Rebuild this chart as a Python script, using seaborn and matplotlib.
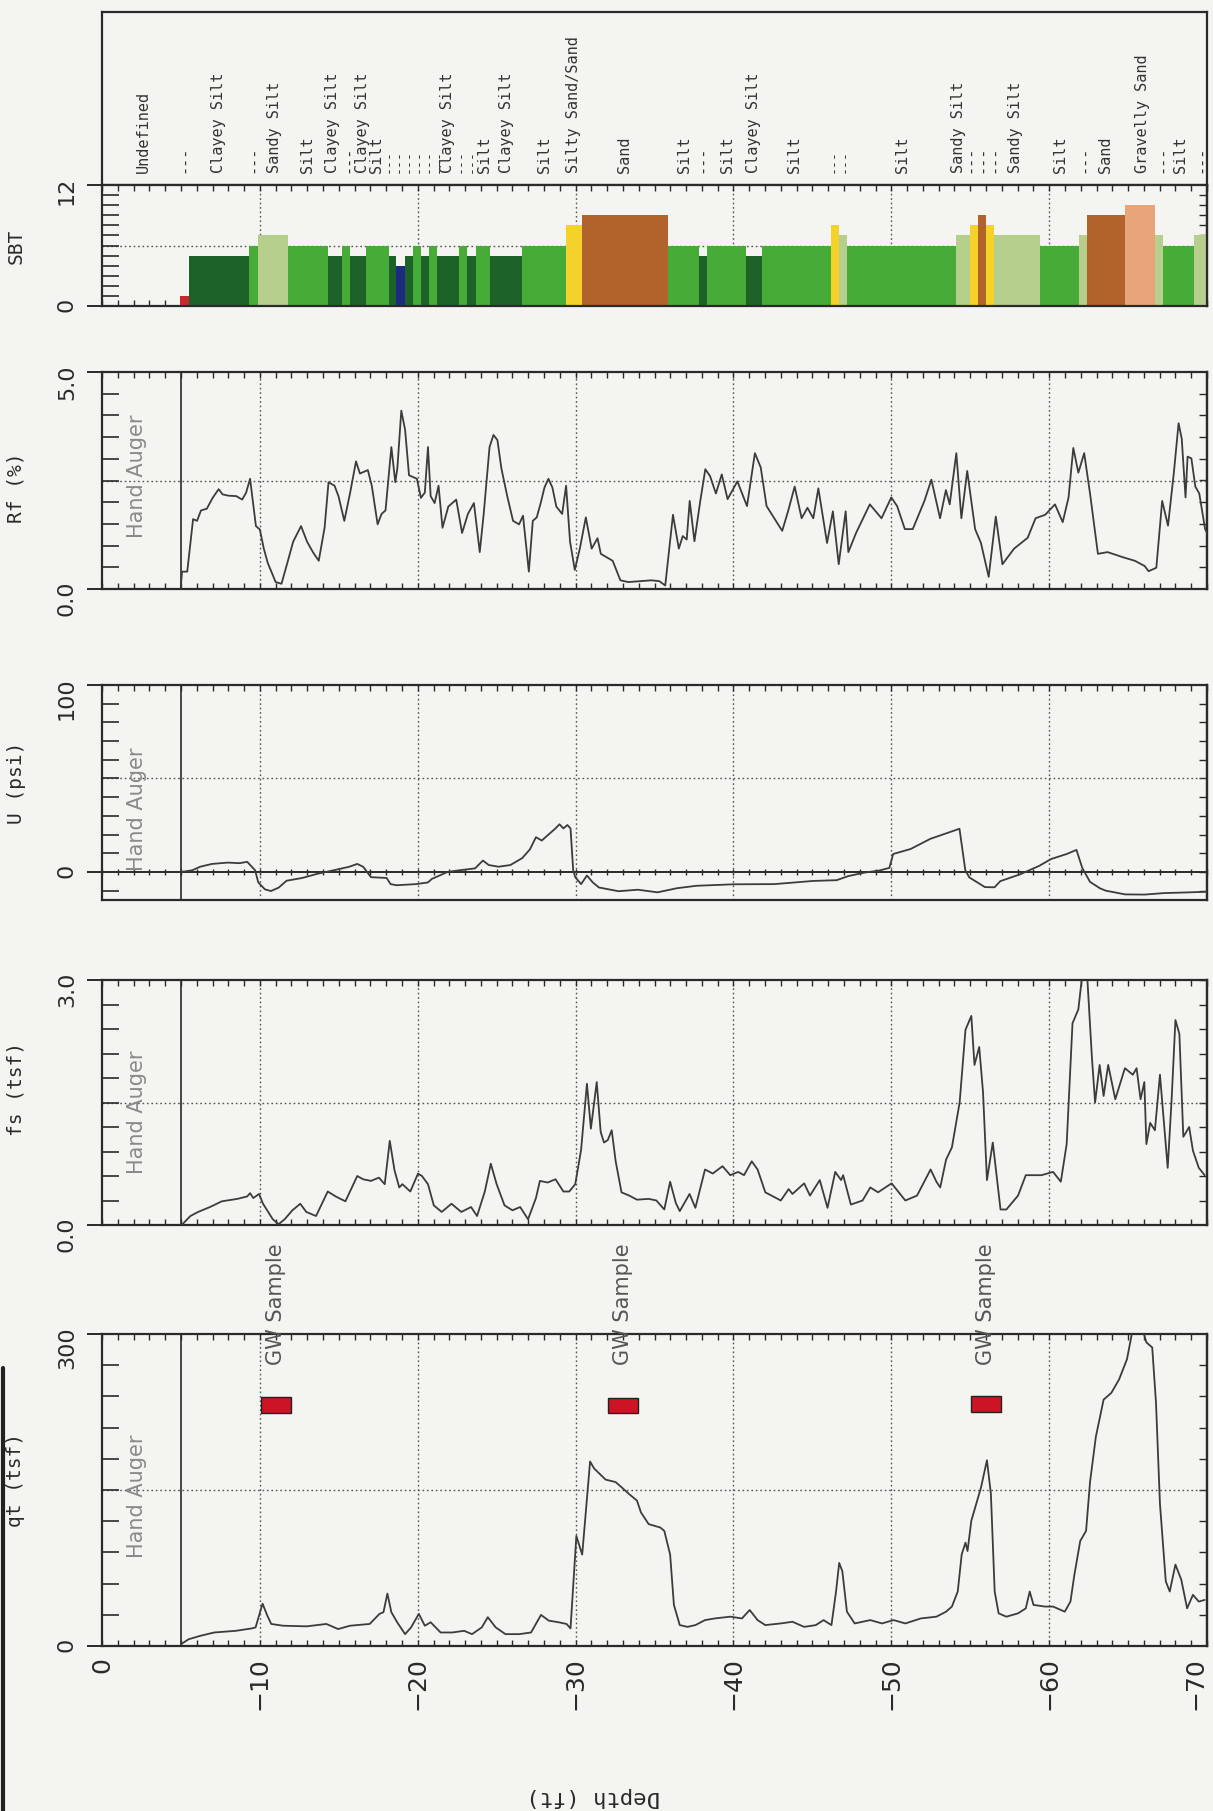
import numpy as np
import matplotlib
matplotlib.use("Agg")
import matplotlib.pyplot as plt
from matplotlib.lines import Line2D
from matplotlib.ticker import MultipleLocator, FixedLocator
import seaborn as sns

sns.set_style("white")
plt.rcParams['font.family'] = ['DejaVu Sans']
BG = '#f4f4f1'
INK = '#2a2a2a'

# ---------------- data ----------------
rf_depth = [-4.98, -5.07, -5.40, -5.77, -6.02, -6.27, -6.64, -7.01, -7.39, -7.64, -8.01, -8.51, -8.88, -9.13,
            -9.38, -9.75, -10.0, -10.25, -10.5, -11.0, -11.37, -11.74, -12.11, -12.61, -12.99, -13.36, -13.73,
            -14.1, -14.35, -14.73, -14.98, -15.35, -15.72, -16.09, -16.34, -16.84, -17.09, -17.46, -17.71,
            -17.96, -18.33, -18.58, -18.71, -18.96, -19.2, -19.45, -19.95, -20.2, -20.45, -20.65, -20.82,
            -21.07, -21.32, -21.57, -21.94, -22.44, -22.81, -23.18, -23.56, -23.93, -24.18, -24.55, -24.8,
            -25.05, -25.3, -25.67, -26.04, -26.42, -26.67, -27.04, -27.29, -27.54, -27.79, -28.03, -28.28,
            -28.53, -28.78, -29.15, -29.4, -29.65, -29.95, -30.27, -30.65, -31.02, -31.39,
            -31.6, -32.35, -32.84, -33.33, -34.07, -34.81, -35.31, -35.68, -36.17, -36.54, -36.79, -37.04,
            -37.23, -37.53, -37.9, -38.22, -38.52, -38.89, -39.26, -39.63, -40.25, -40.86, -41.36, -41.73,
            -42.1, -42.59, -43.09, -43.46, -43.88, -44.32, -44.69, -45.06, -45.38, -45.93, -46.3, -46.67,
            -47.11, -47.28, -47.78, -48.64, -49.38, -50.0, -50.37, -50.86, -51.36, -52.1, -52.54, -53.09,
            -53.46, -53.7, -54.12, -54.44, -54.81, -55.31, -55.68, -56.17, -56.62, -57.04, -57.78, -58.64,
            -59.14, -59.75, -60.37, -60.86, -61.23, -61.53, -61.85, -62.22, -62.59, -63.09, -63.7, -64.69,
            -65.43, -66.05, -66.3, -66.79, -67.16, -67.53, -67.9, -68.2, -68.4, -68.64, -68.77, -69.01,
            -69.26, -69.51, -69.88, -70.1]
rf_value = [0.0, 0.40, 0.40, 1.61, 1.57, 1.81, 1.85, 2.10, 2.30, 2.18, 2.15, 2.14, 2.06, 2.22,
            2.54, 1.45, 1.37, 0.93, 0.60, 0.16, 0.12, 0.60, 1.09, 1.45, 1.09, 0.85, 0.65,
            1.41, 2.46, 2.38, 2.14, 1.57, 2.22, 2.94, 2.66, 2.74, 2.38, 1.49, 1.73,
            1.81, 3.27, 2.46, 2.78, 4.11, 3.67, 2.62, 2.54, 2.10, 2.22, 3.27, 2.14,
            1.98, 2.38, 1.41, 1.90, 2.06, 1.29, 1.73, 1.98, 0.85, 1.73, 3.27, 3.55,
            3.43, 2.78, 2.14, 1.57, 1.49, 1.69, 0.40, 1.57, 1.65, 1.98, 2.34, 2.54,
            2.34, 1.90, 1.73, 2.38, 1.09, 0.44, 0.93, 1.65, 0.93, 1.17,
            0.81, 0.65, 0.20, 0.16, 0.18, 0.20, 0.18, 0.08, 1.71, 0.93, 1.22, 1.14,
            2.03, 1.10, 2.03, 2.76, 2.60, 2.20, 2.64, 2.07, 2.48, 1.91, 3.13, 2.80,
            1.91, 1.63, 1.34, 1.79, 2.36, 1.63, 1.87, 1.63, 2.32, 1.06, 1.79, 0.57,
            1.79, 0.85, 1.30, 1.95, 1.63, 2.11, 1.91, 1.38, 1.38, 2.03, 2.52, 1.63,
            2.28, 1.95, 3.13, 1.63, 2.72, 1.38, 1.06, 0.28, 1.67, 0.57, 0.93, 1.18,
            1.63, 1.71, 1.95, 1.54, 2.11, 3.25, 2.68, 3.13, 2.20, 0.81, 0.85, 0.73,
            0.65, 0.53, 0.41, 0.49, 2.03, 1.46, 2.68, 3.82, 3.46, 2.11, 3.05, 3.01,
            2.36, 2.20, 1.38, 1.22]

u_depth = [-5.02, -5.72, -6.22, -6.97, -7.96, -8.71, -9.2, -9.7, -9.9, -10.32, -10.7, -11.19, -11.69,
           -12.69, -13.68, -14.68, -15.67, -16.17, -16.54, -16.79, -17.04, -18.03, -18.28, -18.66, -19.9,
           -20.65, -20.9, -21.89, -22.64, -23.63, -24.13, -24.5, -25.12, -25.87, -26.62, -27.11, -27.49,
           -27.86, -28.23, -28.73, -28.98, -29.23, -29.48, -29.68, -29.85, -29.98, -30.35, -30.72, -31.09,
           -31.48, -32.72, -33.95, -35.19, -36.42, -37.65, -40.0, -42.59, -45.06, -46.54, -47.28, -48.27,
           -49.26, -49.88, -50.12, -51.23, -52.47, -53.7, -54.32, -54.69, -54.94, -55.93, -56.54, -56.91,
           -58.15, -59.38, -60.12, -61.11, -61.73, -62.1, -62.59, -63.21, -63.58, -64.81, -66.05, -67.28,
           -68.52, -70.0]
u_value = [0.0, 0.9, 2.8, 4.3, 5.0, 4.7, 5.4, 0.9, -5.6, -9.3, -10.2, -8.4, -4.7,
           -3.2, -0.9, 0.9, 2.8, 4.3, 2.8, 0.0, -2.8, -3.2, -6.5, -7.1, -6.5,
           -5.6, -3.7, 0.0, 0.9, 1.9, 6.1, 3.7, 2.8, 3.7, 7.4, 12.1, 18.6,
           16.8, 19.6, 23.3, 25.5, 23.3, 25.1, 23.3, 0.9, -2.8, -6.5, -1.9, -5.6,
           -8.3, -10.3, -9.5, -10.9, -8.7, -7.4, -6.6, -6.5, -4.8, -4.4, -2.2, -0.4,
           0.8, 2.2, 9.6, 12.3, 17.7, 21.3, 23.1, 0.9, -2.9, -8.1, -8.2, -4.9,
           -1.3, 3.3, 6.9, 9.6, 11.8, 2.1, -5.3, -8.7, -10.0, -12.0, -12.1, -11.3,
           -11.0, -10.6]

fs_depth = [-5.05, -5.6, -6.09, -6.84, -7.59, -8.58, -9.2, -9.38, -9.58, -9.95, -10.2, -10.82, -11.19,
            -11.57, -12.06, -12.56, -12.94, -13.56, -14.3, -14.8, -15.42, -16.17, -16.54, -17.04, -17.54,
            -17.91, -18.23, -18.53, -18.83, -19.03, -19.53, -20.02, -20.27, -20.65, -21.02, -21.52, -22.14,
            -22.76, -23.38, -23.76, -24.25, -24.63, -25.0, -25.5, -26.0, -26.49, -26.99, -27.49, -27.74,
            -28.23, -28.73, -29.23, -29.6, -29.98, -30.35, -30.72, -30.97, -31.34, -31.59,
            -31.8, -32.04, -32.29, -32.54, -32.91, -33.4, -33.89, -34.63, -35.12, -35.62, -35.99, -36.35,
            -36.6, -37.22, -37.59, -38.2, -38.69, -39.31, -39.8, -40.3, -40.67, -41.16, -41.53, -42.02,
            -43.0, -43.5, -43.74, -44.48, -44.85, -45.47, -45.96, -46.45, -46.82, -46.95, -47.44, -48.18,
            -48.67, -49.16, -50.02, -50.89, -51.63, -52.49, -52.86, -53.1, -53.47, -53.84, -54.33, -54.7,
            -55.07, -55.27, -55.57, -55.81, -56.06, -56.43, -56.92, -57.29, -58.03, -58.52, -59.51, -60.25,
            -60.74, -61.11, -61.48, -61.85, -62.09, -62.41, -62.71, -62.91, -63.2, -63.45, -63.74, -64.19,
            -64.8, -65.3, -65.54, -65.79, -66.03, -66.16, -66.4, -66.7, -67.02, -67.51, -67.76, -68.0,
            -68.25, -68.5, -68.87, -69.11, -69.48, -69.85]
fs_value = [0.0, 0.11, 0.16, 0.22, 0.29, 0.32, 0.35, 0.39, 0.33, 0.38, 0.26, 0.07, 0.01,
            0.07, 0.18, 0.26, 0.16, 0.11, 0.41, 0.35, 0.29, 0.60, 0.56, 0.54, 0.58,
            0.50, 1.03, 0.67, 0.46, 0.50, 0.41, 0.63, 0.60, 0.50, 0.24, 0.16, 0.26,
            0.16, 0.22, 0.11, 0.41, 0.75, 0.50, 0.24, 0.18, 0.22, 0.07, 0.33, 0.54,
            0.52, 0.56, 0.41, 0.41, 0.50, 0.92, 1.73, 1.18, 1.75, 1.14,
            1.01, 1.04, 1.16, 0.78, 0.40, 0.36, 0.31, 0.32, 0.30, 0.19, 0.53, 0.27,
            0.17, 0.38, 0.21, 0.68, 0.63, 0.72, 0.61, 0.65, 0.61, 0.78, 0.68, 0.40,
            0.30, 0.44, 0.38, 0.51, 0.36, 0.55, 0.21, 0.65, 0.55, 0.61, 0.25, 0.30,
            0.46, 0.40, 0.51, 0.30, 0.36, 0.68, 0.53, 0.46, 0.80, 0.95, 1.50, 2.39,
            2.56, 1.96, 2.18, 1.63, 0.55, 1.01, 0.19, 0.19, 0.36, 0.61, 0.61, 0.65,
            0.53, 0.99, 2.47, 2.64, 3.05, 3.05, 2.05, 1.50, 1.96, 1.58, 1.96, 1.54,
            1.92, 1.84, 1.92, 1.54, 1.75, 0.99, 1.25, 1.16, 1.84, 0.70, 1.54, 2.51,
            2.34, 1.08, 1.20, 0.91, 0.70, 0.61]

qt_depth = [-4.99, -5.49, -6.23, -7.11, -8.48, -9.48, -9.73, -10.17, -10.47, -10.72, -11.47, -12.97,
            -14.21, -14.96, -15.71, -16.96, -17.58, -17.83, -18.08, -18.33, -18.7, -19.2, -19.58, -20.07,
            -20.45, -20.82, -21.45, -22.19, -22.94, -23.44, -24.06, -24.44, -24.94, -25.56, -26.43, -27.18,
            -27.81, -28.3, -28.93, -29.43, -29.68, -30.05, -30.42, -30.92, -31.17,
            -31.9, -32.54, -32.9, -33.4, -33.89, -34.14, -34.63, -35.37, -35.62, -35.99, -36.23, -36.6,
            -37.09, -37.59, -38.2, -38.82, -39.8, -40.54, -41.03, -41.53, -42.02, -43.0, -43.74, -44.48,
            -45.22, -45.71, -46.21, -46.5, -46.7, -46.9, -47.19, -47.68, -48.67, -49.41, -50.15, -50.89,
            -51.87, -52.86, -53.47, -53.84, -54.21, -54.46, -54.7, -54.83, -55.07, -55.69, -56.06, -56.31,
            -56.55, -56.8, -57.29, -58.03, -58.52, -58.77, -59.01, -59.75, -60.25, -60.99, -61.35, -61.6,
            -61.97, -62.34, -62.59, -62.96, -63.45, -63.94, -64.43, -64.93, -65.3, -65.91, -66.16, -66.53,
            -66.77, -67.02, -67.39, -67.64, -68.0, -68.37, -68.74, -69.11, -69.48, -69.85]
qt_value = [1.6, 6.5, 9.8, 13.0, 14.6, 16.9, 17.9, 40.7, 29.3, 21.2, 19.5, 18.9,
            21.2, 16.3, 19.5, 21.2, 30.9, 32.5, 50.4, 32.5, 22.8, 11.4, 17.9, 30.9,
            19.5, 22.8, 13.0, 13.0, 14.6, 11.4, 17.9, 27.7, 17.9, 11.4, 11.4, 13.0,
            29.9, 24.4, 22.8, 21.2, 16.9, 105.8, 87.9, 177.4, 170.8,
            160.0, 157.6, 152.8, 146.0, 139.8, 128.5, 117.2, 113.9, 110.7, 88.0, 39.5, 20.1,
            18.4, 20.1, 24.9, 26.5, 28.2, 26.5, 34.6, 24.9, 20.1, 21.7, 23.3, 18.4,
            20.1, 24.9, 20.1, 52.4, 79.9, 71.8, 33.0, 21.7, 24.9, 21.7, 24.9, 21.7,
            26.5, 28.2, 33.0, 37.9, 52.4, 88.0, 99.4, 91.3, 120.4, 152.8, 178.6, 146.3,
            52.4, 31.4, 28.2, 31.4, 36.2, 52.4, 39.5, 37.9, 37.9, 33.0, 42.7, 68.6,
            101.0, 110.7, 157.6, 201.3, 236.9, 243.4, 256.3, 275.7, 305.0, 305.0, 291.9, 287.1,
            233.7, 136.6, 62.1, 52.4, 78.3, 63.8, 36.2, 49.2, 42.7, 44.3]

# SBT layers (boundaries in ft, zone number per layer)
sbt_bounds = [-4.95, -5.5, -9.33, -9.9, -11.8, -14.3, -15.2, -15.7, -16.7, -18.2, -18.65, -19.2, -19.7,
              -20.2, -20.7, -21.2, -22.6, -23.1, -23.7, -24.6, -26.6, -29.4, -30.4, -35.85, -37.8, -38.3,
              -40.8, -41.8, -46.2, -46.7, -47.2, -54.1, -55.0, -55.5, -56.0, -56.5, -59.4, -61.9, -62.4,
              -64.8, -66.7, -67.2, -69.2, -70.0]
sbt_zone = [1, 5, 6, 7, 6, 5, 6, 5, 6, 5, 4, 5, 6, 5, 6, 5, 6, 5, 6, 5, 6, 8, 9, 6, 5, 6, 5, 6, 8, 7,
            6, 7, 8, 9, 8, 7, 6, 7, 9, 10, 7, 6, 7]
zone_colors = {1: '#c62a2f', 4: '#1c2a80', 5: '#1d6329', 6: '#47ab38', 7: '#b7cf8d',
               8: '#f4d22a', 9: '#b2632c', 10: '#e9a57a'}

# layer names; closely spaced names are grouped (one name per line, pitch in ft)
sbt_label_depth = [-2.6, -5.2, -7.4, -9.55, -10.9, -13.0, -15.55, -17.4, -19.72,
                   -21.9, -23.05, -24.2, -25.6, -28.0, -29.9, -33.1, -36.9, -38.0, -39.6, -41.3,
                   -43.9, -46.65, -50.7, -55.375, -57.9, -60.7, -62.2, -63.6, -65.9, -67.1,
                   -68.3, -69.6]
sbt_label_lines = [["Undefined"], ["---"], ["Clayey Silt"], ["---"], ["Sandy Silt"], ["Silt"],
                   ["Clayey Silt", "---", "Clayey Silt"], ["Silt"], ["---"] * 6,
                   ["Clayey Silt"], ["---"] * 2, ["Silt"], ["Clayey Silt"], ["Silt"],
                   ["Silty Sand/Sand"], ["Sand"], ["Silt"], ["---"], ["Silt"], ["Clayey Silt"],
                   ["Silt"], ["---"] * 2, ["Silt"], ["Sandy Silt", "---", "---", "---"],
                   ["Sandy Silt"], ["Silt"], ["---"], ["Sand"], ["Gravelly Sand"], ["---"],
                   ["Silt"], ["---"]]
sbt_label_pitch = [0, 0, 0, 0, 0, 0, 0.75, 0, 0.45, 0, 0.5, 0, 0, 0, 0, 0, 0, 0, 0, 0,
                   0, 0.5, 0, 0.55, 0, 0, 0, 0, 0, 0, 0, 0]

gw_depth = [-11.05, -33.0, -56.0]
gw_low = [224, 224, 225]
gw_high = [239, 238, 240]

depth_ticks = [0, -10, -20, -30, -40, -50, -60, -70]

# ---------------- layout ----------------
W, H = 1213, 1811
fig = plt.figure(figsize=(W / 100, H / 100), dpi=100, facecolor=BG)
L, R = 102 / W, 1207 / W
PX_PER_FT = (1207 - 102) / 70.0


def ax_at(top_px, bot_px):
    return fig.add_axes([L, 1 - bot_px / H, R - L, (bot_px - top_px) / H])


def base_style(ax, ylim, ymid, major, major_labels, minor, bottom_ticks=True):
    ax.set_facecolor(BG)
    ax.set_xlim(0, -70)
    ax.set_ylim(*ylim)
    for s in ax.spines.values():
        s.set_linewidth(1.6)
        s.set_color(INK)
    for d in depth_ticks[1:-1]:
        ax.axvline(d, color='#555', lw=1.0, ls=(0, (1.2, 2.0)), zorder=0.5)
    if ymid is not None:
        ax.axhline(ymid, color='#555', lw=1.0, ls=(0, (1.2, 2.0)), zorder=0.5)
    ax.xaxis.set_major_locator(FixedLocator(depth_ticks))
    ax.xaxis.set_minor_locator(MultipleLocator(1))
    ax.tick_params(axis='x', which='both', direction='in', top=True, bottom=bottom_ticks,
                   length=4, width=1.0, colors=INK, labelbottom=False)
    ax.set_yticks(major)
    ax.set_yticklabels(major_labels)
    ax.yaxis.set_minor_locator(FixedLocator(minor))
    ax.tick_params(axis='y', which='major', direction='out', length=11, width=1.4, left=True,
                   right=False, labelrotation=90, pad=7, labelsize=16, colors=INK)
    ax.tick_params(axis='y', which='minor', direction='in', length=12, width=1.2, left=True,
                   right=False, colors=INK)
    sec = ax.secondary_yaxis('right')
    sec.set_yticks([])
    sec.yaxis.set_minor_locator(FixedLocator(minor))
    sec.tick_params(axis='y', which='minor', direction='in', length=6, width=1.0, colors=INK)
    sec.spines['right'].set_linewidth(1.6)
    sec.spines['right'].set_color(INK)


def hand_auger(ax, ypos):
    ax.axvline(-5, color=INK, lw=1.2, zorder=1)
    ax.text(-2.2, ypos, "Hand Auger", transform=ax.get_xaxis_transform(), rotation=90,
            ha='center', va='center', fontsize=15, color='#8a8a8a')


def trace(ax, x, y):
    sns.lineplot(x=x, y=y, ax=ax, color='#3c3c3c', lw=1.3, sort=False, estimator=None,
                 zorder=3)
    ax.set_xlabel('')
    ax.set_ylabel('')


# SBT label box
axl = fig.add_axes([L, 1 - 185 / H, R - L, (185 - 12) / H])
axl.set_facecolor(BG)
axl.set_xlim(0, -70)
axl.set_ylim(0, 1)
axl.set_xticks([])
axl.set_yticks([])
for s in axl.spines.values():
    s.set_linewidth(1.6)
    s.set_color(INK)
LBL_FS = 11
for d, lines, p in zip(sbt_label_depth, sbt_label_lines, sbt_label_pitch):
    dash_only = all(l == "---" for l in lines)
    fs_here = 9.5 if (dash_only and len(lines) > 1) else LBL_FS
    asc = 0.76 * fs_here * 100 / 72
    ls = (p * PX_PER_FT / asc) if len(lines) > 1 else 1.2
    axl.text(d, 0.07, "\n".join(lines), rotation=90, ha='center', va='bottom',
             multialignment='left', fontsize=fs_here, family='DejaVu Sans Mono',
             color='#333', linespacing=ls)

# SBT bars
ax_sbt = ax_at(185, 306)
base_style(ax_sbt, (0, 12), 6, [0, 12], ['0', '12'], list(range(1, 12)))
tops = sbt_bounds[:-1]
widths = [b - a for a, b in zip(sbt_bounds[:-1], sbt_bounds[1:])]
ax_sbt.bar(tops, sbt_zone, width=widths, align='edge',
           color=[zone_colors[z] for z in sbt_zone], edgecolor='none', zorder=2)

# Rf
ax_rf = ax_at(372, 589)
base_style(ax_rf, (0, 5), 2.5, [0, 5], ['0.0', '5.0'], list(np.arange(0.5, 5.0, 0.5)))
hand_auger(ax_rf, 0.52)
trace(ax_rf, rf_depth, rf_value)

# U
ax_u = ax_at(685, 900)
base_style(ax_u, (-15, 100), 50, [0, 100], ['0', '100'], list(range(-10, 100, 10)),
           bottom_ticks=False)
hand_auger(ax_u, 0.42)
zero = ax_u.secondary_xaxis(15 / 115)
zero.xaxis.set_major_locator(FixedLocator(depth_ticks))
zero.xaxis.set_minor_locator(MultipleLocator(1))
zero.tick_params(axis='x', which='both', direction='inout', length=5, width=1.0,
                 labelbottom=False, colors=INK)
zero.spines['bottom'].set_linewidth(1.4)
zero.spines['bottom'].set_color(INK)
trace(ax_u, u_depth, u_value)

# fs
ax_fs = ax_at(980, 1225)
base_style(ax_fs, (0, 3), 1.5, [0, 3], ['0.0', '3.0'], list(np.arange(0.3, 3.0, 0.3)))
hand_auger(ax_fs, 0.46)
trace(ax_fs, fs_depth, fs_value)

# qt
ax_qt = ax_at(1334, 1646)
base_style(ax_qt, (0, 300), 150, [0, 300], ['0', '300'], list(range(30, 300, 30)))
hand_auger(ax_qt, 0.48)
trace(ax_qt, qt_depth, qt_value)
ax_qt.bar(gw_depth, [h - l for l, h in zip(gw_low, gw_high)], bottom=gw_low, width=1.9,
          color='#cc1424', edgecolor='#222', lw=1.0, zorder=4)
for d in gw_depth:
    ax_qt.text(d, 270, "GW Sample", rotation=90, ha='center', va='bottom', fontsize=15,
               color='#555', clip_on=False)
ax_qt.set_xticks(depth_ticks)
ax_qt.tick_params(axis='x', which='major', labelbottom=True, labelrotation=90, labelsize=18,
                  pad=8)
ax_qt.get_xticklabels()[-1].set_horizontalalignment('right')

# panel labels
for lab, yc in [("SBT", 246), ("Rf (%)", 488), ("U (psi)", 783), ("fs (tsf)", 1089),
                ("qt (tsf)", 1480)]:
    fig.text(16 / W, 1 - yc / H, lab, rotation=90, ha='center', va='center', fontsize=14,
             family='DejaVu Sans Mono', color=INK)

fig.text(593 / W, 1 - 1797 / H, "Depth (ft)", rotation=180, ha='center', va='center',
         fontsize=16, family='DejaVu Sans Mono', color=INK)

# scan edge
fig.add_artist(Line2D([2.5 / W, 2.5 / W], [0, 1 - 1368 / H], color='#222', lw=3))

fig.savefig("out.png", dpi=100, facecolor=BG)
